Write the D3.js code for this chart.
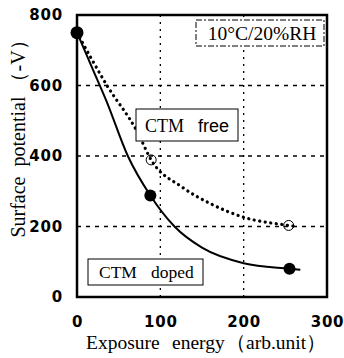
<!DOCTYPE html>
<html>
<head>
<meta charset="utf-8">
<script src="https://cdn.jsdelivr.net/npm/d3@7"></script>
<style>
  body { margin: 0; background: #fff; }
  svg { display: block; }
  text { white-space: pre; }
</style>
</head>
<body>
<div id="chart"></div>
<script>
// measured points (exposure energy, surface potential)
const dopedPoints = [[0, 750], [88, 288], [255, 80]];
const freePoints = [[0, 750], [89, 389], [254, 203]];
// fitted curves
const dopedCurve = [[0, 750], [20, 640], [35, 558], [61, 400], [88, 288], [117, 200], [150, 140], [200, 96], [255, 80], [268, 77]];
const freeCurve = [[0, 750], [36, 600], [72, 470], [89, 389], [126, 312], [160, 265], [199, 227], [254, 203], [263, 200]];
const xTicks = [0, 100, 200, 300];
const yTicks = [0, 200, 400, 600, 800];

const width = 344, height = 358;
const margin = { top: 15, right: 17, bottom: 61, left: 77 };

const svg = d3.select("#chart").append("svg")
  .attr("width", width).attr("height", height);

const x = d3.scaleLinear().domain([0, 300]).range([margin.left, width - margin.right]);
const y = d3.scaleLinear().domain([0, 800]).range([height - margin.bottom, margin.top]);

const serif = "'Liberation Serif', 'Times New Roman', serif";
const tickFont = "'DejaVu Sans', Arial, sans-serif";

// grid
svg.append("g").selectAll("line")
  .data([200, 400, 600])
  .join("line")
  .attr("x1", x(0)).attr("x2", x(300))
  .attr("y1", d => y(d)).attr("y2", d => y(d))
  .attr("stroke", "#000").attr("stroke-width", 1.3)
  .attr("stroke-dasharray", "4,5");

svg.append("g").selectAll("line")
  .data([100, 200])
  .join("line")
  .attr("x1", d => x(d)).attr("x2", d => x(d))
  .attr("y1", y(0)).attr("y2", y(800))
  .attr("stroke", "#000").attr("stroke-width", 1.3)
  .attr("stroke-dasharray", "2,5");

// frame
svg.append("rect")
  .attr("x", x(0)).attr("y", y(800))
  .attr("width", x(300) - x(0)).attr("height", y(0) - y(800))
  .attr("fill", "none").attr("stroke", "#000").attr("stroke-width", 2.5);

// axes (labels only)
const xAxis = svg.append("g")
  .attr("transform", `translate(0,${y(0)})`)
  .call(d3.axisBottom(x).tickValues(xTicks).tickSize(0));
const yAxis = svg.append("g")
  .attr("transform", `translate(${x(0)},0)`)
  .call(d3.axisLeft(y).tickValues(yTicks).tickSize(0).tickPadding(14));
[xAxis, yAxis].forEach(g => {
  g.select(".domain").remove();
  g.selectAll("text")
    .attr("fill", "#000")
    .attr("font-family", tickFont)
    .attr("font-weight", "bold")
    .attr("font-size", 15)
    .attr("letter-spacing", 0.8);
});
xAxis.selectAll("text").attr("y", 29.5).attr("dy", 0);

// curves
const line = d3.line().x(d => x(d[0])).y(d => y(d[1])).curve(d3.curveMonotoneX);

svg.append("path")
  .attr("d", line(dopedCurve))
  .attr("fill", "none").attr("stroke", "#000").attr("stroke-width", 2);

svg.append("path")
  .attr("d", line(freeCurve))
  .attr("fill", "none").attr("stroke", "#000").attr("stroke-width", 3.2)
  .attr("stroke-linecap", "round")
  .attr("stroke-dasharray", "0.1,5.5");

// markers
svg.append("g").selectAll("circle")
  .data(dopedPoints.slice(1))
  .join("circle")
  .attr("cx", d => x(d[0])).attr("cy", d => y(d[1]))
  .attr("r", 6).attr("fill", "#000");

svg.append("g").selectAll("circle")
  .data(freePoints.slice(1))
  .join("circle")
  .attr("cx", d => x(d[0])).attr("cy", d => y(d[1]))
  .attr("r", 5).attr("fill", "none").attr("stroke", "#000").attr("stroke-width", 1);

svg.append("circle")
  .attr("cx", x(0)).attr("cy", y(750))
  .attr("r", 6.5).attr("fill", "#000");

// annotation boxes
function box(x0, y0, w, h, dashed) {
  svg.append("rect")
    .attr("x", x0).attr("y", y0).attr("width", w).attr("height", h)
    .attr("fill", "#fff").attr("stroke", "#000").attr("stroke-width", 1)
    .attr("stroke-dasharray", dashed ? "6,2,2,2" : null);
}

box(196, 20, 128, 26, true);
svg.append("text")
  .attr("x", 262).attr("y", 40).attr("text-anchor", "middle")
  .attr("font-family", serif).attr("font-size", 19.5)
  .text("10°C/20%RH");

box(136, 109, 102, 32, false);
const freeLabel = svg.append("text")
  .attr("x", 145).attr("y", 132)
  .attr("font-size", 18);
freeLabel.append("tspan").attr("font-family", serif).text("CTM");
freeLabel.append("tspan").attr("x", 198).attr("font-family", "'Liberation Sans', Arial, sans-serif").text("free");

box(88, 259, 115, 26, false);
const dopedLabel = svg.append("text")
  .attr("x", 99).attr("y", 278)
  .attr("font-family", serif).attr("font-size", 17.5);
dopedLabel.append("tspan").text("CTM");
dopedLabel.append("tspan").attr("x", 151).text("doped");

// axis titles
const xTitle = svg.append("text")
  .attr("y", 348.5)
  .attr("font-family", serif).attr("font-size", 19.5);
xTitle.append("tspan").attr("x", 86).text("Exposure");
xTitle.append("tspan").attr("x", 172).text("energy");
xTitle.append("tspan").attr("x", 226).text("（arb.unit）");

svg.append("text")
  .attr("transform", `translate(25,${134}) rotate(-90)`)
  .attr("text-anchor", "middle")
  .attr("font-family", serif).attr("font-size", 20)
  .text("Surface  potential （-V）");
</script>
</body>
</html>
